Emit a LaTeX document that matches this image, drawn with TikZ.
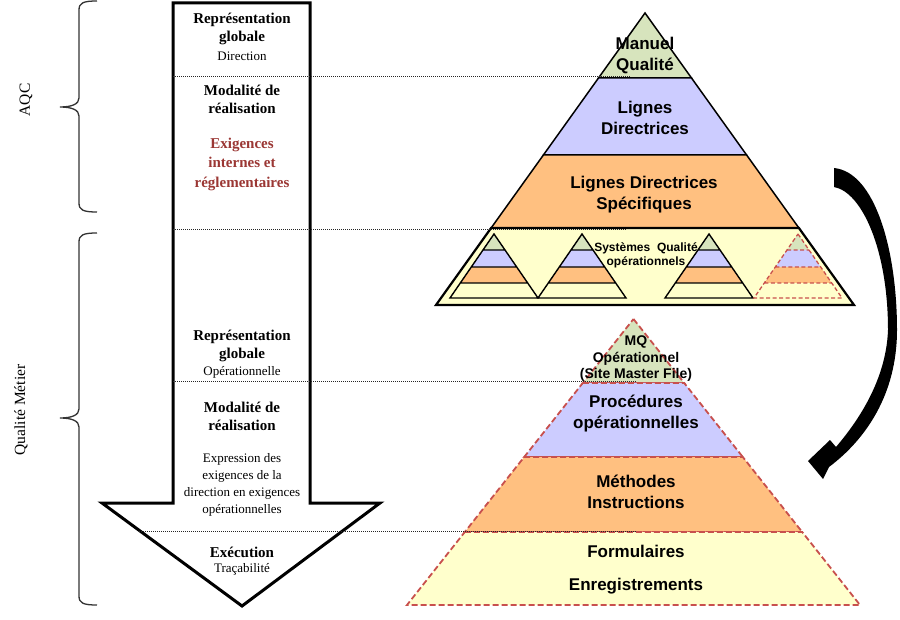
\documentclass[tikz,border=0pt]{standalone}
\usepackage{fontspec}
\setmainfont{Liberation Serif}
\setsansfont{Liberation Sans}
\usepackage{tikz}
\usetikzlibrary{arrows.meta}
\definecolor{mqgreen}{RGB}{215,228,189}
\definecolor{ldblue}{RGB}{204,204,255}
\definecolor{ldorange}{RGB}{255,192,128}
\definecolor{sqyellow}{RGB}{255,255,204}
\definecolor{dashred}{RGB}{200,80,77}
\definecolor{exigred}{RGB}{155,55,52}
\tikzset{
  arrtitle/.style={align=center, font=\fontsize{15}{18}\selectfont\bfseries},
  arrsub/.style={align=center, font=\fontsize{13}{17}\selectfont},
  arrred/.style={align=center, text=exigred, font=\fontsize{15}{19.5}\selectfont\bfseries},
  sidelbl/.style={rotate=90, font=\fontsize{15.5}{18}\selectfont},
  pyrtext/.style={align=center, font=\sffamily\bfseries\fontsize{17}{21}\selectfont},
  pyrsmall/.style={align=center, font=\sffamily\bfseries\fontsize{14}{16.5}\selectfont},
  sqtext/.style={align=center, font=\sffamily\bfseries\fontsize{12}{14}\selectfont},
  brace/.style={draw=black!80, line width=1.3},
  guide/.style={draw=black!85, line width=1, dash pattern=on 1pt off 1pt},
  solidlayer/.style={draw=black, line width=1.5},
  redlayer/.style={draw=dashred, line width=1.8, dash pattern=on 6pt off 3pt},
  mini/.style={draw=black, line width=1.4},
  minidash/.style={draw=dashred, line width=1.3, dash pattern=on 4pt off 2.5pt}
}

\begin{document}
\begin{tikzpicture}[x=1pt, y=-1pt]
  \useasboundingbox (0,0) rectangle (900,620);

  % accolades
  \draw[brace] (97,1) .. controls (83,1) and (79,3) .. (79,10) -- (79,98)
    .. controls (79,104) and (72,107) .. (60,107) .. controls (72,107) and (79,110) .. (79,116)
    -- (79,203) .. controls (79,210) and (83,212) .. (97,212);
  \draw[brace] (97,233) .. controls (83,233) and (79,235) .. (79,242) -- (79,409)
    .. controls (79,415) and (72,418) .. (60,418) .. controls (72,418) and (79,421) .. (79,427)
    -- (79,596) .. controls (79,603) and (83,605) .. (97,605);
  \node[sidelbl] (aqc) at (26,100) {AQC};
  \node[sidelbl] (metier) at (21,410) {Qualité Métier};

  % grande fleche
  \draw[line width=3, fill=white] (173,3) -- (310,3) -- (310,503) -- (380,503)
    -- (242,606) -- (102,503) -- (173,503) -- cycle;

  % pyramide direction
  \filldraw[solidlayer, fill=mqgreen] (645,13) -- (691.5,78) -- (598.5,78) -- cycle;
  \filldraw[solidlayer, fill=ldblue] (598.5,78) -- (691.5,78) -- (746.6,155) -- (543.4,155) -- cycle;
  \filldraw[solidlayer, fill=ldorange] (543.4,155) -- (746.6,155) -- (798.9,228) -- (491.1,228) -- cycle;
  \filldraw[draw=black, line width=2.2, fill=sqyellow] (491.1,228) -- (798.9,228) -- (854,305) -- (436,305) -- cycle;
  \foreach \cx/\sty in {494/mini, 582/mini, 709/mini, 798/minidash} {
    \fill[mqgreen] (\cx,234) -- (\cx+11,250) -- (\cx-11,250) -- cycle;
    \fill[ldblue] (\cx-11,250) -- (\cx+11,250) -- (\cx+22.7,267) -- (\cx-22.7,267) -- cycle;
    \fill[ldorange] (\cx-22.7,267) -- (\cx+22.7,267) -- (\cx+33.7,283) -- (\cx-33.7,283) -- cycle;
    \draw[\sty] (\cx,234) -- (\cx+44,298) -- (\cx-44,298) -- cycle
      (\cx-11,250) -- (\cx+11,250) (\cx-22.7,267) -- (\cx+22.7,267) (\cx-33.7,283) -- (\cx+33.7,283);
  }

  % pyramide operationnelle
  \filldraw[redlayer, fill=mqgreen] (633.5,319) -- (684.2,383) -- (582.8,383) -- cycle;
  \filldraw[redlayer, fill=ldblue] (582.8,383) -- (684.2,383) -- (742.8,457) -- (524.2,457) -- cycle;
  \filldraw[redlayer, fill=ldorange] (524.2,457) -- (742.8,457) -- (802.2,532) -- (464.8,532) -- cycle;
  \filldraw[redlayer, fill=sqyellow] (464.8,532) -- (802.2,532) -- (860,605) -- (407,605) -- cycle;

  % fleche courbe
  \fill[black] (834,168) .. controls (875,172) and (897,250) .. (897,330)
    .. controls (897,395) and (865,440) .. (829,467)
    -- (823,479) -- (808,461) -- (830,440) -- (836,447)
    .. controls (852,428) and (886,385) .. (888,330)
    .. controls (888,250) and (862,192) .. (834,187) -- cycle;

  % pointilles
  \draw[guide] (173,77) -- (630,77);
  \draw[guide] (173,230) -- (627,230);
  \draw[guide] (173,382) -- (637,382);
  \draw[guide] (139,531) -- (637,531);

  % textes fleche
  \node[arrtitle] (rg1) at (242,29) {Représentation\\globale};
  \node[arrsub] (dir) at (242,56) {Direction};
  \node[arrtitle] (mod1) at (242,99) {Modalité de\\réalisation};
  \node[arrred] (exig) at (242,164) {Exigences\\internes et\\réglementaires};
  \node[arrtitle] (rg2) at (242,346) {Représentation\\globale};
  \node[arrsub] (oper) at (242,372) {Opérationnelle};
  \node[arrtitle] (mod2) at (242,416) {Modalité de\\réalisation};
  \node[arrsub] (expr) at (242,485) {Expression des\\exigences de la\\direction en exigences\\opérationnelles};
  \node[arrtitle] (exec) at (242,552) {Exécution};
  \node[arrsub] (trac) at (242,569) {Traçabilité};

  % textes pyramides
  \node[pyrtext] (mq) at (645,56) {Manuel\\Qualité};
  \node[pyrtext] (ld) at (645,118) {Lignes\\Directrices};
  \node[pyrtext] (lds) at (644,195) {Lignes Directrices\\Spécifiques};
  \node[sqtext] (sqo) at (646,255) {Systèmes\ \ Qualité\\opérationnels};
  \node[pyrsmall] (mqo) at (636,359) {MQ\\Opérationnel\\(Site Master File)};
  \node[pyrtext] (proc) at (636,414) {Procédures\\opérationnelles};
  \node[pyrtext] (meth) at (636,492) {Méthodes\\Instructions};
  \node[pyrtext] (form) at (636,551) {Formulaires};
  \node[pyrtext] (enr) at (636,586) {Enregistrements};
\end{tikzpicture}
\end{document}
